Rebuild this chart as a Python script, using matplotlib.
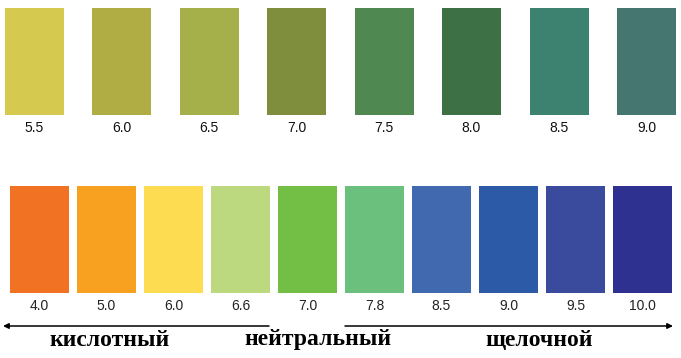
import matplotlib.pyplot as plt
from matplotlib.patches import FancyArrowPatch

# верхняя шкала
top_labels = ['5.5', '6.0', '6.5', '7.0', '7.5', '8.0', '8.5', '9.0']
top_colors = ['#D5C94F', '#AFAD44', '#A5B04A', '#7E8E3C',
              '#4F8951', '#3D7045', '#3D8170', '#45766F']

# нижняя шкала
bot_labels = ['4.0', '5.0', '6.0', '6.6', '7.0', '7.8', '8.5', '9.0', '9.5', '10.0']
bot_colors = ['#F17223', '#F8A020', '#FDDC52', '#BDD980', '#73BF45',
              '#6CC07D', '#4069B0', '#2C5AA7', '#3A4A9D', '#2E3190']

zones = ['кислотный', 'нейтральный', 'щелочной']

W, H = 681, 358
fig = plt.figure(figsize=(W / 100, H / 100), dpi=100)
ax = fig.add_axes([0, 0, 1, 1])
ax.set_xlim(0, W)
ax.set_ylim(H, 0)
ax.axis('off')

sw_w = 59

# top row
top_x = [34 + i * 87.5 for i in range(len(top_labels))]
ax.bar(top_x, 107, width=sw_w, bottom=8, color=top_colors)
for x, lab in zip(top_x, top_labels):
    ax.text(x, 127.5, lab, ha='center', va='center', fontsize=10,
            family='Liberation Sans', color='#111111')

# bottom row
bot_x = [39.5 + i * 67 for i in range(len(bot_labels))]
ax.bar(bot_x, 107, width=sw_w, bottom=186, color=bot_colors)
for x, lab in zip(bot_x, bot_labels):
    ax.text(x, 306, lab, ha='center', va='center', fontsize=10,
            family='Liberation Sans', color='#222222')

# стрелки
for x0, x1 in [(269, 3), (345, 673)]:
    ax.add_patch(FancyArrowPatch((x0, 326), (x1, 326), arrowstyle='-|>',
                                 mutation_scale=8, lw=1.1, color='black',
                                 shrinkA=0, shrinkB=0))

for x, t in zip([110, 318, 539], zones):
    ax.text(x, 340, t, ha='center', va='center', fontsize=17,
            family='Liberation Serif', fontweight='bold', color='black')

fig.savefig('out.png', dpi=100)
